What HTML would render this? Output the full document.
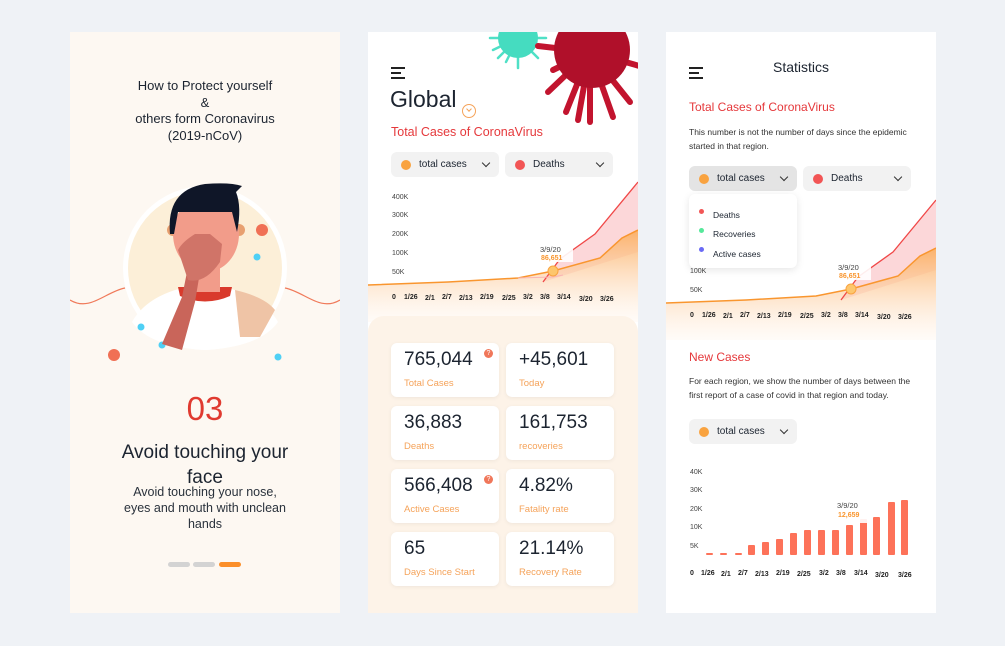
<!DOCTYPE html>
<html><head><meta charset="utf-8"><style>
*{margin:0;padding:0;box-sizing:border-box}
body{width:1005px;height:646px;background:#eff2f6;position:relative;overflow:hidden;font-family:"Liberation Sans",sans-serif;color:#1c2430}
.a{position:absolute}
.panel{position:absolute;top:32px;width:270px;height:581px}
.t{position:absolute;white-space:nowrap}
.dd{position:absolute;height:25px;border-radius:6px;background:#f2f2f2;font-size:10px;line-height:25px}
.dd .dot{position:absolute;left:10px;top:8px;width:10px;height:10px;border-radius:50%}
.dd span{position:absolute;left:28px}
.dd i{position:absolute;right:10px;top:8px;width:6px;height:6px;border-right:1.5px solid #333;border-bottom:1.5px solid #333;transform:rotate(45deg)}
.card{position:absolute;width:108px;height:54px;background:#fff;border-radius:6px;box-shadow:0 1px 4px rgba(0,0,0,.06)}
.card b{position:absolute;left:13px;top:6px;font-size:19px;font-weight:normal;color:#1c2430}
.card s{position:absolute;left:13px;top:35px;font-size:9.5px;text-decoration:none;color:#f5a35a}
.q{position:absolute;right:6px;top:6px;width:9px;height:9px;border-radius:50%;background:#f0775a;color:#fff;font-size:7px;line-height:9px;text-align:center}
.ham{position:absolute;height:2px;background:#222}
</style></head><body>

<!-- LEFT PANEL -->
<div class="panel" style="left:70px;background:#fdf8f2">
  <div class="t" style="left:0;width:270px;top:46px;text-align:center;font-size:13px;line-height:16.5px;color:#1c2430;white-space:normal">How to Protect yourself<br>&amp;<br>others form Coronavirus<br>(2019-nCoV)</div>
  <svg class="a" style="left:0;top:140px" width="270" height="200">
    <path d="M0 128 C20 140 35 120 55 116 M215 116 C235 120 250 140 270 128" stroke="#f07a5a" stroke-width="1.2" fill="none"/>
    <circle cx="135" cy="96" r="82" fill="#fff"/>
    <circle cx="135" cy="96" r="77" fill="#fcefd8"/>
    <path d="M62 150 Q80 118 135 112 Q190 118 208 150 Q190 175 135 178 Q80 175 62 150Z" fill="#fff"/>
    <path d="M108 115 L162 115 L160 124 Q135 135 110 124Z" fill="#d93a2c"/>
    <path d="M165 118 Q195 125 205 138 L190 165 L170 165Z" fill="#efc4a6"/>
    <rect x="120" y="80" width="30" height="40" fill="#f29c8a"/>
    <circle cx="103" cy="58" r="6" fill="#e8a070"/><circle cx="169" cy="58" r="6" fill="#e8a070"/>
    <ellipse cx="136" cy="62" rx="33" ry="38" fill="#f29c8a"/>
    <path d="M100 62 Q96 18 135 12 Q160 10 172 14 L166 20 Q172 35 167 60 L162 40 Q130 40 108 40 L104 62Z" fill="#0f1628"/>
    <circle cx="192" cy="58" r="6" fill="#f07055"/>
    <circle cx="187" cy="85" r="3.5" fill="#4fd0f5"/>
    <circle cx="71" cy="155" r="3.5" fill="#4fd0f5"/>
    <circle cx="92" cy="173" r="3.5" fill="#4fd0f5"/>
    <circle cx="208" cy="185" r="3.5" fill="#4fd0f5"/>
    <circle cx="44" cy="183" r="6" fill="#f07055"/>
    <path d="M92 172 L112 125 L118 95 L130 100 L125 130 L112 178Z" fill="#c9655a"/>
    <path d="M108 78 Q112 70 125 62 L140 62 L152 72 L150 90 Q135 112 118 108 Z" fill="#d07468"/>
  </svg>
  <div class="t" style="left:0;width:270px;top:358px;text-align:center;font-size:33px;color:#e03a30">03</div>
  <div class="t" style="left:0;width:270px;top:408px;text-align:center;font-size:19px;line-height:25px;white-space:normal">Avoid touching your<br>face</div>
  <div class="t" style="left:0;width:270px;top:452px;text-align:center;font-size:12.5px;line-height:16px;white-space:normal;color:#2a323c">Avoid touching your nose,<br>eyes and mouth with unclean<br>hands</div>
  <div class="a" style="left:98px;top:530px;width:22px;height:5px;border-radius:3px;background:#d3d3d3"></div>
  <div class="a" style="left:123px;top:530px;width:22px;height:5px;border-radius:3px;background:#d3d3d3"></div>
  <div class="a" style="left:149px;top:530px;width:22px;height:5px;border-radius:3px;background:#fb8f2a"></div>
</div>

<!-- MIDDLE PANEL -->
<div class="panel" style="left:368px;background:#fff;overflow:hidden">
  <svg class="a" style="left:0;top:0" width="270" height="110">
    <g stroke="#4fe0c6" stroke-width="2.5" stroke-linecap="round">
      <line x1="150" y1="-20" x2="150" y2="36"/><line x1="122" y1="6" x2="178" y2="6"/><line x1="130" y1="-14" x2="170" y2="26"/><line x1="170" y1="-14" x2="130" y2="26"/>
      <line x1="125" y1="18" x2="175" y2="-6"/><line x1="138" y1="30" x2="162" y2="-18"/></g>
    <circle cx="150" cy="6" r="20" fill="#45dcc0"/>
    <g stroke="#c2142e" stroke-width="6" stroke-linecap="round">
      <line x1="222" y1="20" x2="170" y2="14"/><line x1="222" y1="20" x2="180" y2="60"/><line x1="222" y1="20" x2="198" y2="80"/><line x1="222" y1="20" x2="222" y2="90"/><line x1="222" y1="20" x2="245" y2="85"/><line x1="222" y1="20" x2="262" y2="70"/><line x1="222" y1="20" x2="275" y2="35"/><line x1="222" y1="20" x2="185" y2="38"/><line x1="222" y1="20" x2="210" y2="88"/></g>
    <circle cx="224" cy="18" r="38" fill="#b0102a"/>
  </svg>
  <div class="ham" style="left:23px;top:35px;width:14px"></div>
  <div class="ham" style="left:23px;top:40px;width:10px"></div>
  <div class="ham" style="left:23px;top:45px;width:14px"></div>
  <div class="t" style="left:22px;top:54px;font-size:23px;color:#1c2430">Global</div>
  <div class="a" style="left:94px;top:72px;width:14px;height:14px;border:1px solid #f5a35a;border-radius:50%"></div>
  <div class="a" style="left:99px;top:75px;width:4px;height:4px;border-right:1px solid #f5a35a;border-bottom:1px solid #f5a35a;transform:rotate(45deg)"></div>
  <div class="t" style="left:23px;top:93px;font-size:12.5px;color:#e5383b">Total Cases of CoronaVirus</div>
  <div class="dd" style="left:23px;top:120px;width:108px"><div class="dot" style="background:#f9a340"></div><span>total cases</span><i></i></div>
  <div class="dd" style="left:137px;top:120px;width:108px"><div class="dot" style="background:#f25555"></div><span>Deaths</span><i></i></div>
  <svg class="a" style="left:0;top:0" width="270" height="290">
    <defs><linearGradient id="g1" x1="0" y1="0" x2="0" y2="1"><stop offset="0" stop-color="#fbb26a"/><stop offset="1" stop-color="#fff3e8" stop-opacity=".3"/></linearGradient></defs>
    <path d="M175 250 L192 227 L227 202 L270 150 L270 220 Z" fill="#fcd7d9"/>
    <path d="M0 253 L80 250 L150 246 L185 239 L232 226 L254 206 L270 198 L270 290 L0 290Z" fill="url(#g1)"/>
    <path d="M175 250 L192 227 L227 202 L270 150" stroke="#f04848" stroke-width="1.3" fill="none"/>
    <path d="M0 253 L80 250 L150 246 L185 239 L232 226 L254 206 L270 198" stroke="#f9962f" stroke-width="1.5" fill="none"/>
    <path d="M150 246 L185 245 L195 243" stroke="#f9b5b5" stroke-width="1" fill="none"/>
    <rect x="165" y="204" width="40" height="26" fill="#fff" opacity=".9"/>
    <circle cx="185" cy="239" r="5" fill="#fdc66d" stroke="#f9a340"/>
    <g font-size="7" fill="#444" font-family="Liberation Sans"><text x="24" y="167">400K</text><text x="24" y="185">300K</text><text x="24" y="204">200K</text><text x="24" y="223">100K</text><text x="24" y="242">50K</text>
    <text x="172" y="220" font-size="7.5">3/9/20</text><text x="173" y="228" fill="#f9962f" font-weight="bold">86,651</text></g>
    <g font-size="7" fill="#222" font-weight="bold" font-family="Liberation Sans"><text x="24" y="267">0</text><text x="36" y="267">1/26</text><text x="57" y="268">2/1</text><text x="74" y="267">2/7</text><text x="91" y="268">2/13</text><text x="112" y="267">2/19</text><text x="134" y="268">2/25</text><text x="155" y="267">3/2</text><text x="172" y="267">3/8</text><text x="189" y="267">3/14</text><text x="211" y="269">3/20</text><text x="232" y="269">3/26</text></g>
  </svg>
  <div class="a" style="left:0;top:284px;width:270px;height:297px;background:#fdf3e8;border-radius:16px 16px 0 0"></div>
  <div class="card" style="left:23px;top:311px"><b>765,044</b><s>Total Cases</s><div class="q">?</div></div>
  <div class="card" style="left:138px;top:311px"><b>+45,601</b><s>Today</s></div>
  <div class="card" style="left:23px;top:374px"><b>36,883</b><s>Deaths</s></div>
  <div class="card" style="left:138px;top:374px"><b>161,753</b><s>recoveries</s></div>
  <div class="card" style="left:23px;top:437px"><b>566,408</b><s>Active Cases</s><div class="q">?</div></div>
  <div class="card" style="left:138px;top:437px"><b>4.82%</b><s>Fatality rate</s></div>
  <div class="card" style="left:23px;top:500px"><b>65</b><s>Days Since Start</s></div>
  <div class="card" style="left:138px;top:500px"><b>21.14%</b><s>Recovery Rate</s></div>
</div>

<!-- RIGHT PANEL -->
<div class="panel" style="left:666px;background:#fff;overflow:hidden">
  <div class="ham" style="left:23px;top:35px;width:14px"></div>
  <div class="ham" style="left:23px;top:40px;width:10px"></div>
  <div class="ham" style="left:23px;top:45px;width:14px"></div>
  <div class="t" style="left:0;width:270px;text-align:center;top:27px;font-size:14px;color:#1c2430">Statistics</div>
  <div class="t" style="left:23px;top:68px;font-size:12px;color:#e5383b">Total Cases of CoronaVirus</div>
  <div class="t" style="left:23px;top:93px;font-size:8.5px;line-height:14px;white-space:normal;width:230px;color:#333">This number is not the number of days since the epidemic started in that region.</div>
  <svg class="a" style="left:0;top:18px" width="270" height="290">
    <defs><linearGradient id="g2" x1="0" y1="0" x2="0" y2="1"><stop offset="0" stop-color="#fbb26a"/><stop offset="1" stop-color="#fff3e8" stop-opacity=".3"/></linearGradient></defs>
    <path d="M175 250 L192 227 L227 202 L270 150 L270 220 Z" fill="#fcd7d9"/>
    <path d="M0 253 L80 250 L150 246 L185 239 L232 226 L254 206 L270 198 L270 290 L0 290Z" fill="url(#g2)"/>
    <path d="M175 250 L192 227 L227 202 L270 150" stroke="#f04848" stroke-width="1.3" fill="none"/>
    <path d="M0 253 L80 250 L150 246 L185 239 L232 226 L254 206 L270 198" stroke="#f9962f" stroke-width="1.5" fill="none"/>
    <rect x="165" y="204" width="40" height="26" fill="#fff" opacity=".9"/>
    <circle cx="185" cy="239" r="5" fill="#fdc66d" stroke="#f9a340"/>
    <g font-size="7" fill="#444" font-family="Liberation Sans"><text x="24" y="223">100K</text><text x="24" y="242">50K</text>
    <text x="172" y="220" font-size="7.5">3/9/20</text><text x="173" y="228" fill="#f9962f" font-weight="bold">86,651</text></g>
    <g font-size="7" fill="#222" font-weight="bold" font-family="Liberation Sans"><text x="24" y="267">0</text><text x="36" y="267">1/26</text><text x="57" y="268">2/1</text><text x="74" y="267">2/7</text><text x="91" y="268">2/13</text><text x="112" y="267">2/19</text><text x="134" y="268">2/25</text><text x="155" y="267">3/2</text><text x="172" y="267">3/8</text><text x="189" y="267">3/14</text><text x="211" y="269">3/20</text><text x="232" y="269">3/26</text></g>
  </svg>
  <div class="dd" style="left:23px;top:134px;width:108px;background:#e4e4e4"><div class="dot" style="background:#f9a340"></div><span>total cases</span><i></i></div>
  <div class="dd" style="left:137px;top:134px;width:108px"><div class="dot" style="background:#f25555"></div><span>Deaths</span><i></i></div>
  <div class="a" style="left:23px;top:162px;width:108px;height:74px;background:#fff;border-radius:6px;box-shadow:0 2px 8px rgba(0,0,0,.1);font-size:8.5px">
    <div class="a" style="left:10px;top:15px;width:5px;height:5px;border-radius:50%;background:#f25555"></div><div class="t" style="left:24px;top:16px">Deaths</div>
    <div class="a" style="left:10px;top:34px;width:5px;height:5px;border-radius:50%;background:#55e89a"></div><div class="t" style="left:24px;top:35px">Recoveries</div>
    <div class="a" style="left:10px;top:53px;width:5px;height:5px;border-radius:50%;background:#6a6af5"></div><div class="t" style="left:24px;top:55px">Active cases</div>
  </div>
  <div class="t" style="left:23px;top:318px;font-size:12px;color:#e5383b">New Cases</div>
  <div class="t" style="left:23px;top:342px;font-size:8.5px;line-height:14px;white-space:normal;width:235px;color:#333">For each region, we show the number of days between the first report of a case of covid in that region and today.</div>
  <div class="dd" style="left:23px;top:387px;width:108px"><div class="dot" style="background:#f9a340"></div><span>total cases</span><i></i></div>
  <svg class="a" style="left:0;top:0" width="270" height="581">
    <g fill="#fd7259">
      <rect x="40" y="521" width="7" height="2" rx="1"/><rect x="54" y="521" width="7" height="2" rx="1"/><rect x="69" y="521" width="7" height="2" rx="1"/>
      <rect x="82" y="513" width="7" height="10" rx="1"/><rect x="96" y="510" width="7" height="13" rx="1"/><rect x="110" y="507" width="7" height="16" rx="1"/>
      <rect x="124" y="501" width="7" height="22" rx="1"/><rect x="138" y="498" width="7" height="25" rx="1"/><rect x="152" y="498" width="7" height="25" rx="1"/>
      <rect x="166" y="498" width="7" height="25" rx="1"/><rect x="180" y="493" width="7" height="30" rx="1"/><rect x="194" y="487" width="7" height="36" rx="1"/>
      <rect x="207" y="485" width="7" height="38" rx="1"/><rect x="222" y="470" width="7" height="53" rx="1"/><rect x="235" y="468" width="7" height="55" rx="1"/></g>
    <rect x="162" y="465" width="40" height="26" fill="#fff" opacity=".9"/>
    <g font-size="7" fill="#444" font-family="Liberation Sans"><text x="24" y="442">40K</text><text x="24" y="460">30K</text><text x="24" y="479">20K</text><text x="24" y="497">10K</text><text x="24" y="516">5K</text>
    <text x="171" y="476" font-size="7.5">3/9/20</text><text x="172" y="485" fill="#f9962f" font-weight="bold">12,659</text></g>
    <g font-size="7" fill="#222" font-weight="bold" font-family="Liberation Sans"><text x="24" y="543">0</text><text x="35" y="543">1/26</text><text x="55" y="544">2/1</text><text x="72" y="543">2/7</text><text x="89" y="544">2/13</text><text x="110" y="543">2/19</text><text x="131" y="544">2/25</text><text x="153" y="543">3/2</text><text x="170" y="543">3/8</text><text x="188" y="543">3/14</text><text x="209" y="545">3/20</text><text x="232" y="545">3/26</text></g>
  </svg>
</div>
</body></html>
